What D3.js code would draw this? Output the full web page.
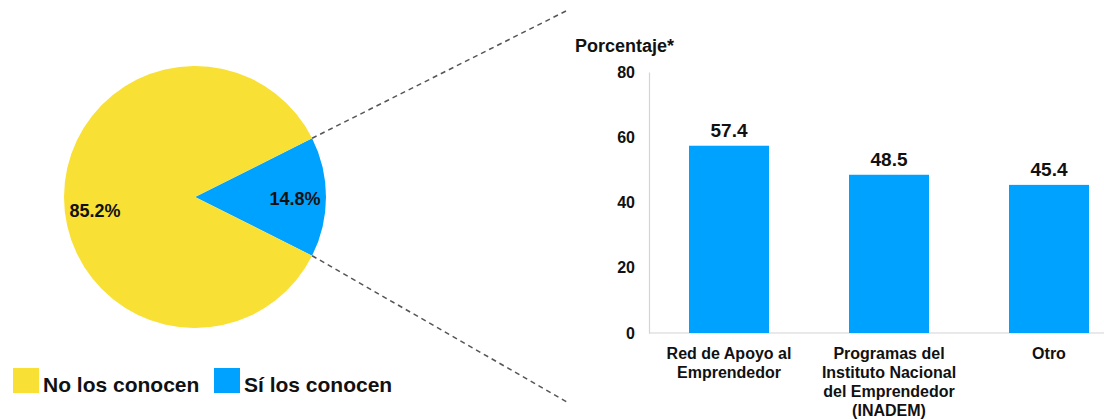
<!DOCTYPE html>
<html>
<head>
<meta charset="utf-8">
<script src="https://cdn.jsdelivr.net/npm/d3@7"></script>
<style>
  html, body { margin: 0; padding: 0; background: #fff; }
  svg { display: block; font-family: "Liberation Sans", Arial, sans-serif; }
</style>
</head>
<body>
<svg id="chart" width="1104" height="419"></svg>
<script>
// Knowledge of support programmes (pie) and which ones are known (bars)
const pieLabels = ["Sí los conocen", "No los conocen"];
const pieValues = [14.8, 85.2];
const pieColors = ["#00A2FF", "#F8E035"];

const barCategories = [
  ["Red de Apoyo al", "Emprendedor"],
  ["Programas del", "Instituto Nacional", "del Emprendedor", "(INADEM)"],
  ["Otro"]
];
const barValues = [57.4, 48.5, 45.4];
const yTicks = [0, 20, 40, 60, 80];
const barColor = "#00A2FF";

const svg = d3.select("#chart");

// ---------- Pie ----------
const cx = 195, cy = 197, radius = 131;
const sliceAngle = pieValues[0] / 100 * 2 * Math.PI;
// Blue slice centred on the right-hand side
const pie = d3.pie()
  .sort(null)
  .value(d => d)
  .startAngle(Math.PI / 2 - sliceAngle / 2)
  .endAngle(Math.PI / 2 - sliceAngle / 2 + 2 * Math.PI);
const arcs = pie(pieValues);
const arc = d3.arc().innerRadius(0).outerRadius(radius);
const labelArc = d3.arc().innerRadius(100).outerRadius(100);

const gPie = svg.append("g").attr("transform", `translate(${cx},${cy})`);
gPie.selectAll("path")
  .data(arcs)
  .join("path")
  .attr("d", arc)
  .attr("fill", (d, i) => pieColors[i]);

const labelShift = [8, 20];
gPie.selectAll("text")
  .data(arcs)
  .join("text")
  .attr("x", d => labelArc.centroid(d)[0])
  .attr("y", (d, i) => labelArc.centroid(d)[1] + labelShift[i])
  .attr("text-anchor", "middle")
  .attr("font-size", 18)
  .attr("font-weight", "bold")
  .attr("fill", "#111")
  .text(d => d.value.toFixed(1) + "%");

// Dashed connectors from the blue slice edges towards the bar panel
const edge = a => [cx + radius * Math.sin(a), cy - radius * Math.cos(a)];
const connectors = [
  [edge(arcs[0].startAngle), [568, 10]],
  [edge(arcs[0].endAngle), [567, 402]]
];
svg.selectAll("line.connector")
  .data(connectors)
  .join("line")
  .attr("class", "connector")
  .attr("x1", d => d[0][0]).attr("y1", d => d[0][1])
  .attr("x2", d => d[1][0]).attr("y2", d => d[1][1])
  .attr("stroke", "#555")
  .attr("stroke-width", 1.5)
  .attr("stroke-dasharray", "5,4");

// Legend
const legendItems = [
  { label: pieLabels[1], color: pieColors[1], x: 13 },
  { label: pieLabels[0], color: pieColors[0], x: 214 }
];
const gLeg = svg.append("g");
const li = gLeg.selectAll("g").data(legendItems).join("g")
  .attr("transform", d => `translate(${d.x},368)`);
li.append("rect").attr("width", 26).attr("height", 25).attr("fill", d => d.color);
li.append("text")
  .attr("x", 30).attr("y", 24)
  .attr("font-size", 21)
  .attr("font-weight", "bold")
  .attr("fill", "#111")
  .text(d => d.label);

// ---------- Bars ----------
const x = d3.scaleBand()
  .domain(d3.range(barValues.length))
  .range([649, 1129])
  .paddingInner(0.5)
  .paddingOuter(0.25);
const y = d3.scaleLinear().domain([0, 80]).range([333, 72]);

svg.append("text")
  .attr("x", 575).attr("y", 52)
  .attr("font-size", 18).attr("font-weight", "bold").attr("fill", "#111")
  .text("Porcentaje*");

const yAxis = svg.append("g")
  .attr("transform", "translate(649,0)")
  .call(d3.axisLeft(y).tickValues(yTicks).tickSize(0).tickPadding(14));
yAxis.select(".domain").attr("stroke", "#d4d4d4").attr("stroke-width", 1.2);
yAxis.selectAll("text")
  .attr("font-size", 16).attr("font-weight", "bold").attr("fill", "#111")
  .attr("font-family", "Liberation Sans, Arial, sans-serif");

svg.append("line")
  .attr("x1", 649).attr("x2", 1129)
  .attr("y1", y(0)).attr("y2", y(0))
  .attr("stroke", "#d4d4d4").attr("stroke-width", 1.2);

svg.selectAll("rect.bar")
  .data(barValues)
  .join("rect")
  .attr("class", "bar")
  .attr("x", (d, i) => x(i))
  .attr("width", x.bandwidth())
  .attr("y", d => y(d))
  .attr("height", d => y(0) - y(d))
  .attr("fill", barColor);

svg.selectAll("text.value")
  .data(barValues)
  .join("text")
  .attr("class", "value")
  .attr("x", (d, i) => x(i) + x.bandwidth() / 2)
  .attr("y", d => y(d) - 9)
  .attr("text-anchor", "middle")
  .attr("font-size", 19).attr("font-weight", "bold").attr("fill", "#111")
  .text(d => d.toFixed(1));

const cat = svg.selectAll("text.cat")
  .data(barCategories)
  .join("text")
  .attr("class", "cat")
  .attr("x", (d, i) => x(i) + x.bandwidth() / 2)
  .attr("y", 359)
  .attr("text-anchor", "middle")
  .attr("font-size", 16).attr("font-weight", "bold").attr("fill", "#111");
cat.each(function (lines) {
  const t = d3.select(this);
  const xx = t.attr("x");
  lines.forEach((line, k) => {
    t.append("tspan").attr("x", xx).attr("dy", k === 0 ? 0 : 19).text(line);
  });
});
</script>
</body>
</html>
